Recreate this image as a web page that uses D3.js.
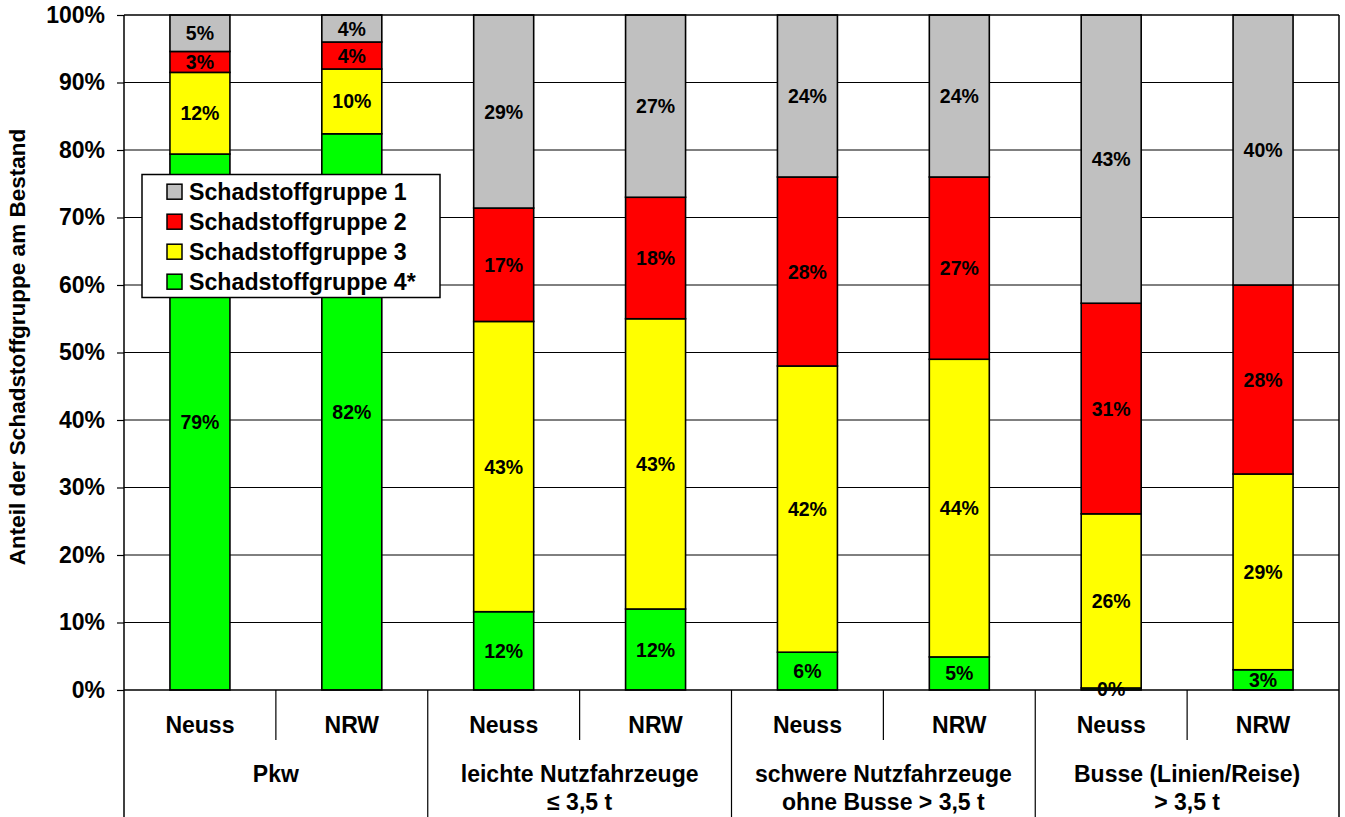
<!DOCTYPE html>
<html>
<head>
<meta charset="utf-8">
<script src="https://cdn.jsdelivr.net/npm/d3@7"></script>
<style>
  html, body { margin: 0; padding: 0; background: #fff; }
  svg { display: block; }
  text { font-family: "Liberation Sans", Arial, Helvetica, sans-serif; font-weight: bold; fill: #000; }
</style>
</head>
<body>
<svg id="chart" width="1345" height="817"></svg>
<script>
// ---- data ----
const groups = [["Pkw"], ["leichte Nutzfahrzeuge", "≤ 3,5 t"], ["schwere Nutzfahrzeuge", "ohne Busse > 3,5 t"], ["Busse (Linien/Reise)", "> 3,5 t"]];
const subCategories = ["Neuss", "NRW"];
const barIds = ["Pkw-Neuss", "Pkw-NRW", "lNfz-Neuss", "lNfz-NRW", "sNfz-Neuss", "sNfz-NRW", "Bus-Neuss", "Bus-NRW"];
const seriesNames = ["Schadstoffgruppe 1", "Schadstoffgruppe 2", "Schadstoffgruppe 3", "Schadstoffgruppe 4*"];
const seriesColors = ["#C0C0C0", "#FF0000", "#FFFF00", "#00FF00"];
// values in percent, bottom to top order: group 4, 3, 2, 1
const sg4 = [79.4, 82.4, 11.6, 12.0, 5.6, 4.9, 0.3, 3.0];
const sg3 = [12.1, 9.6, 43.0, 43.0, 42.4, 44.1, 25.8, 29.0];
const sg2 = [3.1, 4.0, 16.8, 18.0, 28.0, 27.0, 31.2, 28.0];
const sg1 = [5.4, 4.0, 28.6, 27.0, 24.0, 24.0, 42.7, 40.0];
const yTicks = [0, 10, 20, 30, 40, 50, 60, 70, 80, 90, 100];
const yTitle = "Anteil der Schadstoffgruppe am Bestand";

// ---- layout ----
const L = 124, R = 1339, T = 15, B = 690, H = 817;
const svg = d3.select("#chart");

const x = d3.scaleBand().domain(barIds).range([L, R]).paddingInner(0.605).paddingOuter(0.3025);
const xEdge = d3.scaleBand().domain(barIds).range([L, R]).padding(0);
const y = d3.scaleLinear().domain([0, 100]).range([B, T]);

// gridlines
svg.append("g").selectAll("line").data(yTicks.filter(d => d > 0 && d < 100)).join("line")
  .attr("x1", L).attr("x2", R).attr("y1", d => y(d)).attr("y2", d => y(d))
  .attr("stroke", "#000").attr("stroke-width", 1);

// stacked data
const stackSeries = [sg4, sg3, sg2, sg1];
const stackColors = [seriesColors[3], seriesColors[2], seriesColors[1], seriesColors[0]];
const segs = [];
barIds.forEach((id, i) => {
  let acc = 0;
  stackSeries.forEach((s, k) => {
    segs.push({ id, y0: acc, y1: acc + s[i], v: s[i], color: stackColors[k] });
    acc += s[i];
  });
});

svg.append("g").selectAll("rect").data(segs).join("rect")
  .attr("x", d => x(d.id)).attr("width", x.bandwidth())
  .attr("y", d => y(d.y1)).attr("height", d => y(d.y0) - y(d.y1))
  .attr("fill", d => d.color).attr("stroke", "#000").attr("stroke-width", 1.6);

svg.append("g").selectAll("text").data(segs).join("text")
  .attr("x", d => x(d.id) + x.bandwidth() / 2)
  .attr("y", d => (y(d.y0) + y(d.y1)) / 2)
  .attr("dy", "0.36em")
  .attr("text-anchor", "middle").style("font-size", "19.5px")
  .text(d => Math.round(d.v) + "%");

// frame
const frame = svg.append("g").attr("stroke", "#000").attr("stroke-width", 1.5);
frame.append("line").attr("x1", L).attr("x2", R).attr("y1", T).attr("y2", T);
frame.append("line").attr("x1", R).attr("x2", R).attr("y1", T).attr("y2", H);
frame.append("line").attr("x1", L).attr("x2", L).attr("y1", T).attr("y2", H);
frame.append("line").attr("x1", L).attr("x2", R).attr("y1", B).attr("y2", B);

// y axis
const yAxis = d3.axisLeft(y).tickValues(yTicks).tickFormat(d => d + "%").tickSize(7).tickPadding(12);
const ya = svg.append("g").attr("transform", `translate(${L},0)`).call(yAxis);
ya.select(".domain").remove();
ya.selectAll(".tick line").attr("stroke", "#000").attr("stroke-width", 1.2);
ya.selectAll(".tick text").style("font-size", "23px").style("font-family", "'Liberation Sans', Arial, sans-serif").style("font-weight", "bold").attr("fill", "#000");

svg.append("text")
  .attr("transform", `translate(25,347) rotate(-90)`)
  .attr("text-anchor", "middle").style("font-size", "22.5px")
  .text(yTitle);

// category axis
const sep = svg.append("g").attr("stroke", "#000").attr("stroke-width", 1.2);
barIds.forEach((id, i) => {
  if (i === 0) return;
  const xx = xEdge(id);
  sep.append("line").attr("x1", xx).attr("x2", xx).attr("y1", B).attr("y2", i % 2 === 0 ? H : 740);
});
svg.append("g").selectAll("text").data(barIds).join("text")
  .attr("x", d => x(d) + x.bandwidth() / 2).attr("y", 733)
  .attr("text-anchor", "middle").style("font-size", "23px")
  .text((d, i) => subCategories[i % 2]);

groups.forEach((lines, g) => {
  const cx = xEdge(barIds[g * 2 + 1]);
  const t = svg.append("text").attr("text-anchor", "middle").style("font-size", "23px");
  lines.forEach((ln, j) => {
    t.append("tspan").attr("x", cx).attr("y", 782 + j * 27.5).text(ln);
  });
});

// legend
const lg = svg.append("g");
lg.append("rect").attr("x", 142).attr("y", 174.5).attr("width", 298).attr("height", 123)
  .attr("fill", "#fff").attr("stroke", "#000").attr("stroke-width", 1.5);
seriesNames.forEach((n, i) => {
  const cy = 191.7 + i * 30;
  lg.append("rect").attr("x", 167).attr("y", cy - 7.5).attr("width", 15).attr("height", 15)
    .attr("fill", seriesColors[i]).attr("stroke", "#000").attr("stroke-width", 1.5);
  lg.append("text").attr("x", 189).attr("y", cy + 8).style("font-size", "23.2px").text(n);
});
</script>
</body>
</html>
